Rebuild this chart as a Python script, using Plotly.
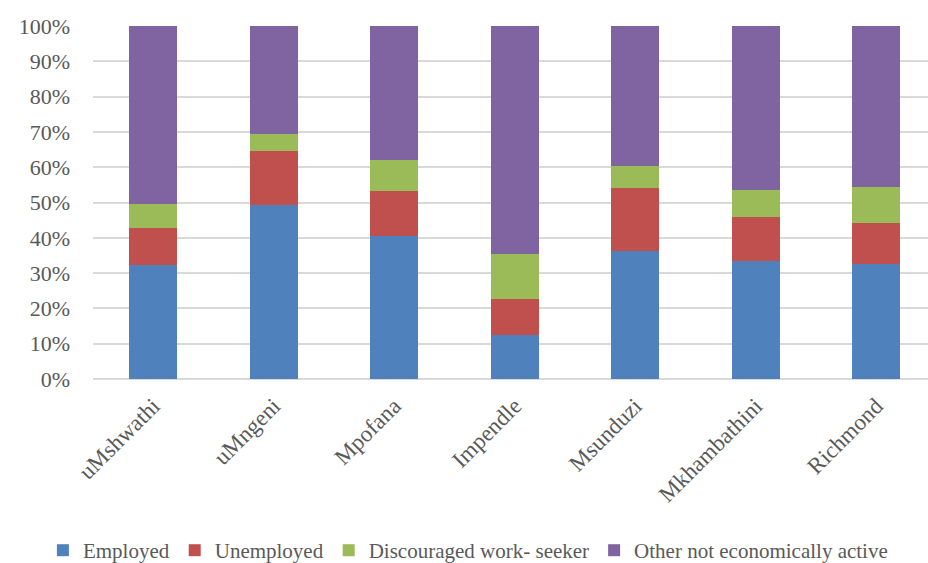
import plotly.graph_objects as go

# Labour force status by local municipality (shares of working-age population)
municipalities = ["uMshwathi", "uMngeni", "Mpofana", "Impendle", "Msunduzi", "Mkhambathini", "Richmond"]
employed = [0.322, 0.492, 0.405, 0.125, 0.363, 0.334, 0.326]
unemployed = [0.106, 0.155, 0.129, 0.103, 0.179, 0.124, 0.117]
discouraged = [0.068, 0.048, 0.087, 0.126, 0.060, 0.078, 0.100]
other_inactive = [0.504, 0.305, 0.379, 0.646, 0.398, 0.464, 0.457]

series = [
    ("Employed", employed, "#4F81BD"),
    ("Unemployed", unemployed, "#C0504D"),
    ("Discouraged work- seeker", discouraged, "#9BBB59"),
    ("Other not economically active", other_inactive, "#8064A2"),
]

font_family = "Liberation Serif, Times New Roman, serif"
text_color = "#595959"

fig = go.Figure()
for name, values, color in series:
    fig.add_trace(go.Bar(
        x=municipalities,
        y=values,
        name=name,
        width=0.4,
        marker=dict(color=color, line=dict(width=0)),
    ))

fig.update_layout(
    barmode="stack",
    width=928,
    height=563,
    margin=dict(l=93, r=0, t=26, b=184, autoexpand=False),
    paper_bgcolor="white",
    plot_bgcolor="white",
    font=dict(family=font_family, size=22, color=text_color),
    showlegend=True,
    legend=dict(
        orientation="h",
        x=-0.06,
        xanchor="left",
        y=-0.486,
        yanchor="middle",
        font=dict(family=font_family, size=21, color=text_color),
        itemwidth=30,
        traceorder="normal",
        bgcolor="rgba(0,0,0,0)",
    ),
    xaxis=dict(
        range=[-0.5, 6.43],
        tickangle=-45,
        showgrid=False,
        showline=False,
        ticks="",
        ticklabelstandoff=8,
        automargin=False,
        tickfont=dict(family=font_family, size=23, color=text_color),
    ),
    yaxis=dict(
        range=[0, 1],
        dtick=0.1,
        tickformat=".0%",
        showgrid=True,
        gridcolor="#D9D9D9",
        gridwidth=1.5,
        zeroline=True,
        zerolinecolor="#D9D9D9",
        zerolinewidth=1.5,
        showline=False,
        ticks="",
        ticklabelstandoff=22,
        automargin=False,
        tickfont=dict(family=font_family, size=22, color=text_color),
    ),
)

fig.write_html("out.html")
